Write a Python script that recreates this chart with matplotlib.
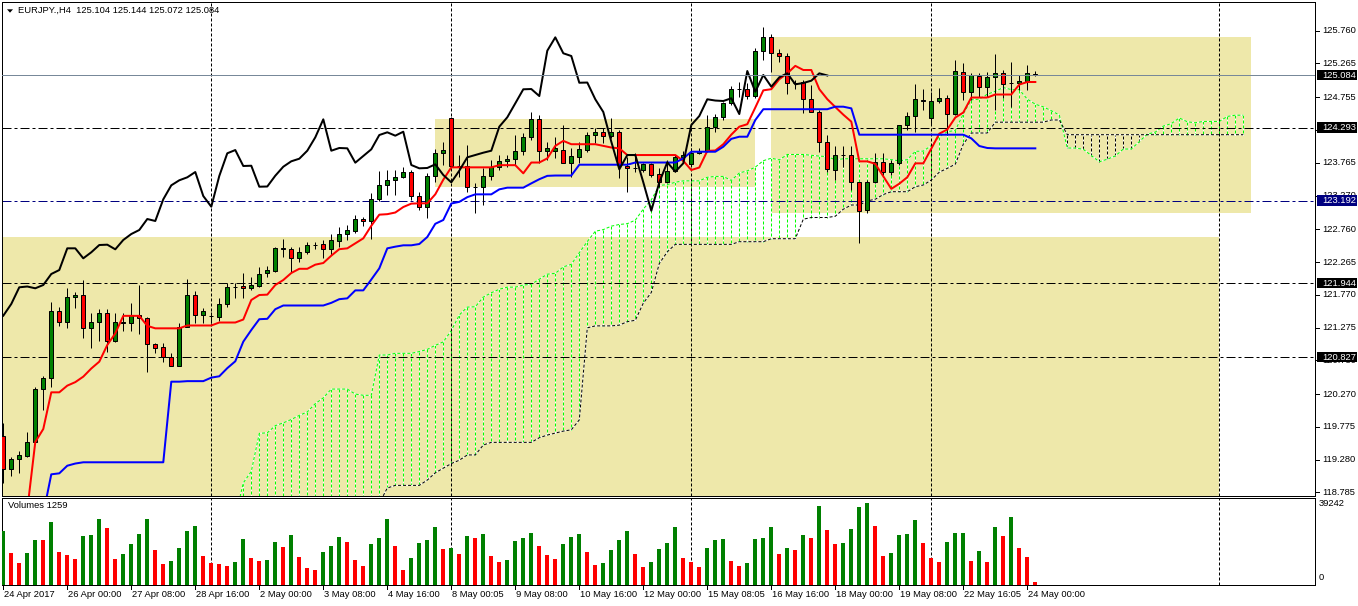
import numpy as np
import matplotlib.pyplot as plt
from matplotlib.patches import Rectangle, Polygon
from matplotlib.transforms import blended_transform_factory as blend

plt.rcParams['font.family'] = ['Liberation Sans', 'DejaVu Sans']
plt.rcParams['font.size'] = 6.75
plt.rcParams['lines.scale_dashes'] = False

# --- EURJPY H4 bars, 24 Apr 2017 16:00 .. 24 May 2017 00:00 ---
opens = [119.641, 119.133, 119.284, 119.338, 119.541, 120.342, 120.508, 121.520, 121.354, 121.732,
         121.762, 121.272, 121.354, 121.490, 121.076, 121.343, 121.339, 121.460, 121.414, 121.022,
         120.976, 120.834, 120.698, 121.288, 121.762, 121.460, 121.449, 121.439, 121.626, 121.888,
         121.903, 121.868, 121.907, 122.094, 122.134, 122.466, 122.457, 122.321, 122.412, 122.522,
         122.533, 122.457, 122.587, 122.684, 122.734, 122.915, 122.885, 123.213, 123.424, 123.500,
         123.545, 123.625, 123.262, 123.092, 123.565, 123.908, 124.436, 123.711, 123.716, 123.398,
         123.403, 123.569, 123.705, 123.787, 123.826, 123.947, 124.149, 124.421, 123.947, 123.947,
         123.958, 123.766, 123.856, 123.958, 124.184, 124.225, 124.174, 124.234, 123.716, 123.681,
         123.655, 123.741, 123.590, 123.469, 123.645, 123.847, 123.746, 123.908, 123.947, 124.310,
         124.452, 124.663, 124.875, 124.879, 124.773, 125.458, 125.660, 125.419, 125.378, 124.970,
         124.990, 124.724, 124.527, 124.083, 123.655, 123.877, 123.882, 123.469, 123.051, 123.469,
         123.772, 123.630, 123.757, 124.335, 124.471, 124.702, 124.436, 124.702, 124.739, 124.501,
         125.141, 124.838, 125.076, 124.914, 125.056, 125.116, 124.965, 124.965, 125.005, 125.104]
highs = [119.832, 119.323, 119.409, 119.701, 120.381, 120.547, 121.665, 121.581, 121.868, 121.816,
         121.993, 121.490, 121.555, 121.555, 121.490, 121.490, 121.641, 121.918, 121.430, 121.046,
         121.037, 120.886, 121.339, 122.004, 121.832, 121.566, 121.514, 121.717, 121.943, 121.943,
         122.094, 122.043, 122.194, 122.205, 122.496, 122.608, 122.496, 122.496, 122.572, 122.572,
         122.598, 122.688, 122.799, 122.824, 122.975, 122.950, 123.303, 123.640, 123.655, 123.655,
         123.696, 123.655, 123.327, 123.605, 123.968, 124.083, 124.456, 123.882, 124.033, 123.454,
         123.681, 123.806, 123.882, 123.882, 124.184, 124.210, 124.536, 124.486, 124.083, 124.149,
         124.335, 123.983, 124.083, 124.234, 124.294, 124.294, 124.436, 124.260, 123.856, 123.917,
         123.757, 123.757, 123.681, 123.806, 123.882, 123.947, 123.983, 123.983, 124.486, 124.497,
         124.687, 124.925, 124.990, 124.965, 125.494, 125.821, 125.710, 125.479, 125.419, 125.015,
         125.015, 124.940, 124.562, 124.184, 124.018, 124.018, 124.018, 123.469, 123.504, 123.908,
         123.908, 123.806, 124.340, 124.536, 124.955, 124.875, 124.838, 124.890, 124.789, 125.317,
         125.277, 125.126, 125.116, 125.141, 125.408, 125.166, 125.292, 125.091, 125.242, 125.144]
lows = [118.926, 119.032, 119.073, 119.319, 119.526, 120.029, 120.381, 121.303, 121.263, 121.566,
        121.121, 120.961, 121.076, 120.910, 121.061, 121.227, 121.227, 121.177, 120.608, 120.895,
        120.759, 120.698, 120.698, 121.288, 121.339, 121.348, 121.339, 121.378, 121.590, 121.717,
        121.717, 121.842, 121.892, 122.034, 122.119, 122.345, 122.119, 122.270, 122.386, 122.457,
        122.321, 122.371, 122.496, 122.598, 122.708, 122.814, 122.608, 123.191, 123.278, 123.278,
        123.530, 123.202, 123.051, 122.935, 123.479, 123.731, 123.681, 123.554, 123.327, 123.001,
        123.126, 123.504, 123.655, 123.696, 123.731, 123.882, 124.109, 123.766, 123.806, 123.832,
        123.757, 123.554, 123.757, 123.932, 124.059, 124.068, 124.134, 123.530, 123.327, 123.630,
        123.630, 123.554, 123.403, 123.454, 123.630, 123.832, 123.705, 123.897, 123.932, 124.234,
        124.411, 124.637, 124.763, 124.724, 124.739, 125.317, 125.141, 125.292, 124.804, 124.879,
        124.512, 124.532, 123.932, 123.630, 123.504, 123.705, 123.353, 122.557, 123.001, 123.454,
        123.580, 123.580, 123.731, 124.260, 124.234, 124.562, 124.335, 124.663, 124.184, 124.486,
        124.713, 124.713, 124.763, 124.763, 124.562, 124.739, 124.612, 124.864, 124.864, 125.072]
closes = [119.137, 119.284, 119.344, 119.541, 120.342, 120.508, 121.520, 121.354, 121.732, 121.762,
          121.272, 121.354, 121.490, 121.076, 121.354, 121.354, 121.460, 121.414, 121.022, 120.961,
          120.834, 120.698, 121.288, 121.762, 121.460, 121.520, 121.454, 121.631, 121.883, 121.895,
          121.868, 121.918, 122.084, 122.144, 122.472, 122.472, 122.321, 122.412, 122.522, 122.527,
          122.457, 122.598, 122.688, 122.749, 122.915, 122.885, 123.213, 123.424, 123.500, 123.545,
          123.625, 123.262, 123.101, 123.565, 123.908, 123.957, 123.716, 123.720, 123.403, 123.406,
          123.569, 123.705, 123.787, 123.826, 123.947, 124.149, 124.421, 123.947, 123.988, 123.983,
          123.766, 123.867, 123.968, 124.184, 124.225, 124.174, 124.234, 123.731, 123.681, 123.686,
          123.741, 123.580, 123.469, 123.645, 123.847, 123.882, 123.917, 123.947, 124.310, 124.452,
          124.663, 124.875, 124.879, 124.773, 125.458, 125.660, 125.419, 125.378, 124.974, 124.977,
          124.724, 124.532, 124.083, 123.666, 123.882, 123.882, 123.469, 123.040, 123.469, 123.772,
          123.630, 123.757, 124.335, 124.471, 124.724, 124.705, 124.698, 124.739, 124.501, 125.151,
          124.838, 125.091, 124.914, 125.056, 125.116, 124.950, 124.970, 125.005, 125.116, 125.084]
volumes = [26190, 15590, 10770, 15600, 21700, 21650, 30370, 15910, 14460, 12540,
           23620, 24110, 31820, 27480, 12540, 14950, 19770, 24590, 31820, 16870,
           10120, 11570, 17840, 26030, 28440, 13980, 10610, 10120, 9160, 11090,
           22180, 13020, 11570, 12050, 20730, 18320, 24110, 13500, 8200, 7230,
           15910, 18800, 23140, 20730, 12050, 9160, 19770, 22660, 31820, 18800,
           7230, 13020, 20250, 21700, 27960, 17360, 17840, 14950, 23620, 22660,
           24590, 13980, 11090, 12050, 21210, 22660, 25070, 18800, 14460, 12540,
           19770, 23140, 24590, 15750, 9640, 10610, 16870, 21700, 26030, 14950,
           8680, 11090, 17360, 20250, 27960, 13020, 11090, 8680, 17840, 21700,
           22180, 11570, 9160, 10610, 22180, 22660, 27960, 14950, 17840, 16870,
           24110, 22660, 38090, 26520, 19770, 20250, 27000, 37600, 39242, 28440,
           13980, 15430, 24110, 24590, 31340, 20250, 13020, 11090, 20730, 25070,
           25230, 11570, 16390, 11090, 27960, 23620, 32780, 17840, 13500, 1259]

# Ichimoku values that depend on bars before the window
tenkan_head = [118.45, 118.45, 118.48, 118.52, 119.545, 119.742, 120.296, 120.296]
kijun_head = [118.30, 118.30, 118.30, 118.30, 118.31, 118.46, 119.057, 119.072, 119.187, 119.22,
              119.239, 119.239, 119.239, 119.239, 119.239, 119.239, 119.239, 119.239, 119.239, 119.239,
              119.239, 120.457, 120.457, 120.465, 120.465]
# Senkou span B at bars 26..76 (values below 118.74 are off the chart)
span_b_head = [118.40, 118.40, 118.40, 118.40, 118.40, 118.40, 118.40, 118.40, 118.40, 118.40,
               118.40, 118.40, 118.40, 118.40, 118.40, 118.40, 118.40, 118.40, 118.40, 118.40,
               118.40, 118.62, 118.85, 118.89, 118.89, 118.89, 118.89, 118.97, 119.08, 119.15,
               119.22, 119.27, 119.35, 119.35, 119.50, 119.54, 119.54, 119.54, 119.54, 119.54,
               119.54, 119.61, 119.65, 119.68, 119.71, 119.73, 119.88, 121.27, 121.30, 121.30,
               121.30]

time_labels = ["24 Apr 2017", "26 Apr 00:00", "27 Apr 08:00", "28 Apr 16:00", "2 May 00:00",
               "3 May 08:00", "4 May 16:00", "8 May 00:05", "9 May 08:00", "10 May 16:00",
               "12 May 00:00", "15 May 08:05", "16 May 16:00", "18 May 00:00", "19 May 08:00",
               "22 May 16:05", "24 May 00:00"]
time_label_bars = [0, 8, 16, 24, 32, 40, 48, 56, 64, 72, 80, 88, 96, 104, 112, 120, 128]
price_ticks = [125.760, 125.265, 124.755, 124.260, 123.765, 123.270, 122.760, 122.265,
               121.770, 121.275, 120.780, 120.270, 119.775, 119.280, 118.785]
week_separators = [26, 56, 86, 116, 152]
h_levels = [124.293, 123.192, 121.944, 120.827]
h_colors = ['black', '#000080', 'black', 'black']
# rectangles: start bar, end bar, low, high
rect_start = [-5, 54, 96]
rect_end = [152, 94, 156]
rect_low = [118.0, 123.403, 123.010]
rect_high = [122.638, 124.431, 125.665]

# --- Ichimoku (9, 26, 52) ---
n = len(closes)
tenkan = list(tenkan_head)
for i in range(len(tenkan_head), n):
    tenkan.append((max(highs[i - 8:i + 1]) + min(lows[i - 8:i + 1])) / 2)
kijun = list(kijun_head)
for i in range(len(kijun_head), n):
    kijun.append((max(highs[i - 25:i + 1]) + min(lows[i - 25:i + 1])) / 2)
span_a = [(tenkan[i] + kijun[i]) / 2 for i in range(n)]
span_b = list(span_b_head)
for j in range(26 + len(span_b_head), n + 26):
    k = j - 26
    span_b.append((max(highs[k - 51:k + 1]) + min(lows[k - 51:k + 1])) / 2)
chikou = closes[26:]

# --- figure ---
W, H, DPI = 1358, 606, 100
PX = 72 / DPI
DOT = (0, (3 * PX, 2 * PX))
DASHDOT = (0, (9 * PX, 3 * PX, 3 * PX, 3 * PX))
GREEN, RED, LIME, KHAKI = '#008000', '#FF0000', '#00FF00', '#EEE8AA'

fig = plt.figure(figsize=(W / DPI, H / DPI), dpi=DPI)
fig.patch.set_facecolor('white')


def box(l, t, r, b):
    return [l / W, 1 - b / H, (r - l) / W, (b - t) / H]


ax = fig.add_axes(box(2, 2, 1315, 495.5))
axv = fig.add_axes(box(2, 497.5, 1315, 585))
for a in (ax, axv):
    a.set_xlim(-0.16, 163.96)
    a.set_xticks([])
    a.set_yticks([])
    for s in a.spines.values():
        s.set_linewidth(PX)
        s.set_color('black')
ax.set_ylim(118.737, 126.194)
axv.set_ylim(0, 42090)
ppx = (126.194 - 118.737) / 493.5  # price per pixel

x = np.arange(n)

# rectangles (background objects)
for s, e, lo, hi in zip(rect_start, rect_end, rect_low, rect_high):
    ax.add_patch(Rectangle((s, lo), e - s, hi - lo, fc=KHAKI, ec='none', zorder=0.5))

# kumo hatch
for j in range(26, n + 26):
    a_val, b_val = span_a[j - 26], span_b[j - 26]
    col = LIME if a_val >= b_val else 'black'
    ax.plot([j, j], [a_val, b_val], color='white', lw=PX, zorder=1)
    ax.plot([j, j], [a_val, b_val], color=col, lw=PX, ls=DOT, zorder=1.1)
jj = np.arange(26, n + 26)
ax.plot(jj, span_a, color='white', lw=PX, zorder=1.2)
ax.plot(jj, span_a, color=LIME, lw=PX, ls=DOT, zorder=1.3)
ax.plot(jj, span_b, color='white', lw=PX, zorder=1.2)
ax.plot(jj, span_b, color='black', lw=PX, ls=DOT, zorder=1.3)

# period separators
for a in (ax, axv):
    for s in week_separators:
        a.axvline(s, color='black', lw=PX, ls=DOT, zorder=1.5)

# horizontal lines
for lvl, c in zip(h_levels, h_colors):
    ax.axhline(lvl, color=c, lw=PX, ls=DASHDOT, zorder=2)

# candles
o, h, l, c = map(np.array, (opens, highs, lows, closes))
ax.vlines(x, l, h, color='black', lw=PX, zorder=3)
body_col = [GREEN if cc >= oo else RED for oo, cc in zip(o, c)]
ax.bar(x, np.maximum(np.abs(c - o), 0.004), 0.5, bottom=np.minimum(o, c),
       color=body_col, edgecolor='black', linewidth=PX, zorder=3.1)

# ichimoku lines
ax.plot(x, tenkan, color='red', lw=2 * PX, zorder=4)
ax.plot(x, kijun, color='blue', lw=2 * PX, zorder=4)
ax.plot(x[:len(chikou)], chikou, color='black', lw=2 * PX, zorder=4)

# bid line
ax.axhline(closes[-1], color='#778899', lw=PX, zorder=5)

# volumes
vol_col = [GREEN if i == 0 or volumes[i] > volumes[i - 1] else RED for i in range(n)]
axv.bar(x, volumes, 0.5, color=vol_col, zorder=3)

# price scale
tr = blend(ax.transAxes, ax.transData)
apx = 1 / 1313
for p in price_ticks:
    ax.plot([1, 1 + 4 * apx], [p, p], transform=tr, color='black', lw=PX, clip_on=False)
    ax.text(1 + 7 * apx, p, f"{p:.3f}", transform=tr, va='center', ha='left', clip_on=False, zorder=10)
for lvl, col in zip([closes[-1]] + h_levels, ['black'] + h_colors):
    ax.add_patch(Rectangle((1 + 1.5 * apx, lvl - 5 * ppx), 40 * apx, 10.5 * ppx, transform=tr,
                           fc=col, ec='none', clip_on=False, zorder=11))
    ax.text(1 + 7 * apx, lvl, f"{lvl:.3f}", transform=tr, va='center', ha='left', color='white',
            clip_on=False, zorder=12)

# volume scale
axv.text(1 + 4 * apx, (585 - 503.3) / 87.5, f"{max(volumes)}", transform=axv.transAxes,
         va='center', ha='left', clip_on=False)
axv.text(1 + 4 * apx, (585 - 577.7) / 87.5, "0", transform=axv.transAxes,
         va='center', ha='left', clip_on=False)

# time scale
trv = blend(axv.transData, axv.transAxes)
for b, lab in zip(time_label_bars, time_labels):
    axv.plot([b, b], [0, -0.046], transform=trv, color='black', lw=PX, clip_on=False)
    axv.text(b + 0.1, -0.106, lab, transform=trv, va='center', ha='left', clip_on=False)

# titles
fig.text(18 / W, 1 - 10.5 / H,
         f"EURJPY.,H4  {opens[-1]:.3f} {highs[-1]:.3f} {lows[-1]:.3f} {closes[-1]:.3f}",
         va='center', ha='left')
fig.add_artist(Polygon([[7 / W, 1 - 9.3 / H], [13 / W, 1 - 9.3 / H], [10 / W, 1 - 12.7 / H]],
                       closed=True, fc='black', ec='none', transform=fig.transFigure))
fig.text(8 / W, 1 - 506 / H, f"Volumes {volumes[-1]}", va='center', ha='left')

fig.savefig('out.png', dpi=DPI, facecolor='white')
